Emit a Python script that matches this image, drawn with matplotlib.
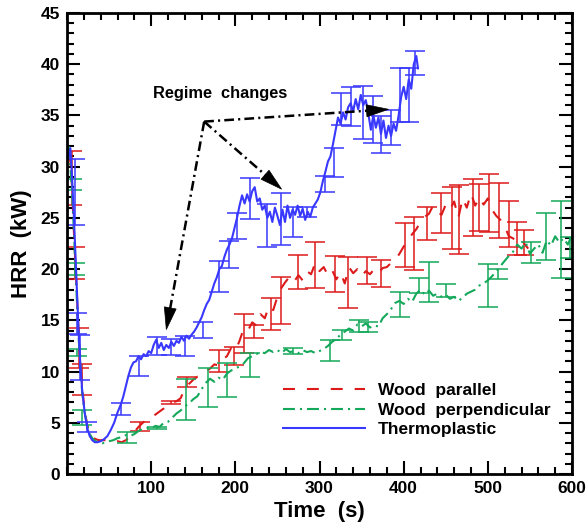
import matplotlib
matplotlib.use("Agg")
import numpy as np
import matplotlib.pyplot as plt
from matplotlib.ticker import MultipleLocator, FixedLocator

plt.rcParams['font.family'] = ['Liberation Sans', 'DejaVu Sans']
plt.rcParams['font.weight'] = 'bold'
plt.rcParams['lines.scale_dashes'] = False

# ---------------- data ----------------
series_labels = ["Wood  parallel", "Wood  perpendicular", "Thermoplastic"]

# Thermoplastic (blue)
t_thermo = [2, 4, 6, 8, 10, 12, 14, 16, 18, 21, 24, 27, 30, 33, 36, 40, 44, 48, 52, 56,
            60, 64, 67, 70, 73, 76, 79, 82, 85, 88, 91, 94, 97, 100, 103, 106, 109, 112, 115, 118,
            121, 124, 127, 130, 133, 136, 139, 142, 145, 148, 151, 154, 157, 160, 163, 166, 169, 172, 175, 178,
            181, 184, 187, 190, 193, 196, 199, 202, 205, 208, 211, 214, 217, 220, 223, 226, 229, 232, 235, 238,
            241, 244, 247, 250, 253, 256, 259, 262, 265, 268, 271, 274, 277, 280, 283, 286, 289, 292, 295, 298,
            301, 304, 307, 310, 313, 316, 319, 322, 325, 328, 331, 334, 337, 340, 343, 346, 349, 352, 355, 358,
            361, 364, 367, 370, 373, 376, 379, 382, 385, 388, 391, 394, 397, 400, 403, 406, 409, 412, 415, 417]
hrr_thermo = [31.0, 31.8, 29.0, 25.5, 21.5, 17.5, 13.5, 10.5, 8.2, 6.0, 4.5, 3.7, 3.3, 3.1, 3.1, 3.2, 3.4, 3.7, 4.3, 5.0,
              6.0, 6.8, 7.6, 8.6, 9.6, 10.4, 10.9, 11.0, 11.5, 11.2, 11.7, 11.5, 12.0, 11.8, 12.6, 13.1, 12.3, 12.8, 12.1, 12.6,
              12.3, 12.9, 12.5, 13.0, 12.8, 13.4, 13.0, 13.5, 13.2, 13.6, 13.9, 14.3, 14.8, 15.3, 16.0, 16.6, 17.0, 17.8, 18.6, 19.2,
              20.0, 20.3, 21.2, 21.9, 22.4, 23.0, 24.0, 25.0, 26.2, 27.2, 26.4, 27.3, 26.6, 27.6, 28.0, 26.6, 26.9, 25.8, 26.2, 25.0,
              25.6, 24.6, 26.0, 25.2, 24.3, 25.8, 24.6, 26.2, 25.0, 25.8, 25.3, 26.2, 25.2, 25.9, 24.8, 25.6, 25.1, 26.0, 26.4, 26.8,
              27.5, 28.6, 29.5, 30.5, 31.0, 32.2, 33.5, 34.8, 34.2, 35.3, 34.6, 35.8, 36.2, 35.4, 36.6, 35.6, 37.0, 36.0, 36.5, 35.2,
              33.6, 35.0, 33.8, 34.8, 33.2, 34.5, 32.8, 34.0, 33.0, 34.2, 33.5, 35.0, 36.8, 37.8, 36.6, 38.5, 37.6, 40.0, 40.8, 39.6]

# Wood parallel (red)
t_par = [2, 4, 6, 8, 10, 12, 14, 16, 18, 21, 24, 27, 30, 34, 38, 42, 46, 50, 55, 60,
         65, 70, 75, 80, 85, 90, 95, 100, 105, 110, 115, 120, 125, 130, 135, 140, 145, 150, 155, 160,
         165, 170, 175, 180, 185, 190, 195, 200, 205, 210, 215, 220, 225, 230, 235, 240, 245, 250, 255, 260,
         265, 270, 275, 280, 285, 290, 295, 300, 305, 310, 315, 320, 325, 330, 335, 340, 345, 350, 355, 360,
         365, 370, 375, 380, 385, 390, 395, 400, 405, 410, 415, 420, 425, 430, 435, 440, 445, 450, 455, 460,
         465, 470, 475, 480, 485, 490, 495, 500, 505, 510, 515, 520, 525, 530, 535, 540, 545, 548]
hrr_par = [31.2, 30.5, 28.0, 24.0, 20.5, 17.0, 13.5, 11.0, 8.5, 6.2, 4.8, 4.0, 3.6, 3.4, 3.3, 3.3, 3.3, 3.2, 3.1, 3.2,
           3.1, 3.3, 3.7, 4.1, 4.6, 5.0, 5.3, 5.5, 5.8, 6.1, 6.4, 6.8, 7.0, 7.1, 7.4, 8.3, 8.8, 9.2, 9.5, 9.6,
           10.0, 10.3, 10.7, 10.6, 11.2, 11.5, 12.3, 12.0, 13.0, 14.2, 14.0, 14.8, 14.5, 15.6, 15.2, 16.4, 16.0, 17.3, 18.2, 18.8,
           19.3, 18.8, 19.4, 18.9, 19.8, 19.5, 20.6, 19.8, 20.2, 19.4, 19.9, 19.0, 19.7, 18.6, 20.2, 19.6, 20.0, 19.3, 19.8, 19.5,
           20.0, 19.6, 20.1, 20.2, 20.6, 20.9, 21.5, 22.2, 22.8, 23.4, 23.9, 24.6, 25.1, 25.4, 26.2, 25.6, 25.3, 26.3, 25.8, 26.6,
           25.0, 26.9, 26.0, 27.4, 26.2, 27.0, 26.3, 26.9, 25.8, 25.2, 24.8, 24.2, 23.2, 23.0, 22.6, 22.9, 22.3, 22.0]

# Wood perpendicular (green)
t_perp = [2, 4, 6, 8, 10, 12, 14, 16, 18, 21, 24, 27, 30, 34, 38, 42, 46, 50, 55, 60,
          65, 70, 75, 80, 85, 90, 95, 100, 105, 110, 115, 120, 125, 130, 135, 140, 145, 150, 155, 160,
          165, 170, 175, 180, 185, 190, 195, 200, 205, 210, 215, 220, 225, 230, 235, 240, 245, 250, 255, 260,
          265, 270, 275, 280, 285, 290, 295, 300, 305, 310, 315, 320, 325, 330, 335, 340, 345, 350, 355, 360,
          365, 370, 375, 380, 385, 390, 395, 400, 405, 410, 415, 420, 425, 430, 435, 440, 445, 450, 455, 460,
          465, 470, 475, 480, 485, 490, 495, 500, 505, 510, 515, 520, 525, 530, 535, 540, 545, 550, 555, 560,
          565, 570, 575, 580, 585, 590, 595, 600]
hrr_perp = [32.0, 30.0, 27.5, 24.0, 20.0, 16.5, 13.0, 10.3, 8.0, 6.0, 4.7, 3.9, 3.5, 3.2, 3.1, 3.0, 3.1, 3.2, 3.3, 3.5,
            3.6, 3.8, 3.7, 3.9, 4.2, 4.4, 4.5, 4.4, 4.7, 4.6, 5.0, 5.1, 5.5, 5.9, 6.2, 6.6, 6.9, 7.3, 7.6, 8.3,
            8.9, 9.3, 9.0, 9.4, 9.2, 9.8, 10.1, 10.3, 10.5, 10.8, 11.3, 11.5, 11.7, 11.9, 11.8, 12.1, 11.9, 12.1, 11.8, 12.2,
            11.9, 12.0, 11.8, 12.1, 11.9, 12.0, 11.8, 12.0, 12.2, 12.5, 12.9, 13.2, 13.6, 13.9, 14.2, 14.0, 14.6, 14.4, 14.7, 14.3,
            14.5, 14.4, 15.2, 15.6, 16.1, 16.7, 16.9, 16.6, 17.1, 16.8, 17.6, 18.0, 17.5, 17.9, 17.4, 17.6, 17.3, 17.5, 17.1, 17.3,
            16.9, 17.2, 17.6, 17.8, 18.0, 18.4, 18.6, 18.9, 19.3, 19.8, 20.3, 20.8, 21.3, 21.7, 22.4, 22.0, 22.6, 21.5, 22.0, 22.4,
            21.6, 22.8, 22.3, 23.2, 22.6, 23.0, 22.4, 23.3]

# Error bars (time, mean, half-range)
eb_t_thermo = [9, 12, 15, 24, 64, 85, 107, 124, 140, 162, 180, 192, 202, 218, 238, 254, 268, 285, 307, 317,
               325, 337, 352, 363, 373, 385, 396, 406, 414]
eb_y_thermo = [27.5, 14.7, 11.4, 4.6, 6.35, 10.55, 12.5, 12.4, 12.5, 14.05, 19.3, 21.4, 24.2, 26.9, 24.3, 24.9, 24.6, 25.6, 28.3, 30.4,
               35.6, 35.9, 35.3, 34.6, 33.1, 33.8, 37.0, 37.0, 40.1]
eb_e_thermo = [3.2, 1.0, 2.2, 0.5, 0.55, 0.95, 0.9, 0.8, 1.0, 0.75, 1.5, 1.3, 1.3, 2.0, 2.1, 2.5, 1.5, 0.5, 0.75, 1.4,
               1.55, 1.9, 2.6, 2.3, 1.8, 1.7, 2.6, 2.6, 1.15]

eb_t_par = [6, 10, 14, 18, 87, 123, 143, 180, 198, 210, 222, 242, 254, 274, 295, 319, 334, 357, 373, 402,
            412, 428, 444, 458, 466, 482, 490, 501, 513, 525, 535, 543]
eb_y_par = [28.9, 20.6, 12.3, 9.2, 4.6, 7.0, 9.0, 11.05, 11.5, 13.7, 13.9, 15.6, 16.9, 19.75, 20.4, 19.55, 18.7, 19.85, 19.6, 22.35,
            22.5, 24.45, 25.5, 25.0, 24.85, 26.0, 26.0, 26.45, 25.7, 24.4, 23.0, 22.6]
eb_e_par = [2.6, 1.6, 2.0, 1.5, 0.45, 0.15, 0.5, 1.05, 0.9, 1.9, 0.6, 1.55, 2.3, 1.65, 2.2, 1.75, 2.5, 1.35, 1.3, 2.15,
            2.6, 1.65, 1.95, 3.0, 3.35, 2.75, 2.3, 2.85, 2.7, 2.2, 1.6, 1.2]

eb_t_perp = [6, 9, 12, 18, 71, 107, 141, 168, 190, 217, 269, 312, 327, 347, 358, 396, 418, 430, 450, 500,
             512, 551, 569, 587, 598]
eb_y_perp = [28.25, 20.0, 11.85, 5.5, 3.55, 4.5, 7.3, 8.4, 9.2, 10.65, 12.0, 12.05, 13.6, 14.45, 14.35, 16.55, 18.4, 18.75, 17.9, 18.4,
             19.5, 21.6, 23.2, 22.85, 22.1]
eb_e_perp = [0.55, 0.6, 0.35, 0.7, 0.55, 0.1, 2.0, 1.9, 1.65, 1.15, 0.3, 1.0, 0.5, 0.55, 0.45, 1.25, 0.7, 1.95, 0.6, 2.1,
             0.5, 1.0, 2.3, 3.75, 1.0]

annot_text = "Regime  changes"
annot_origin = (163, 34.4)
annot_tips = [(118, 14.1), (255, 27.8), (382, 35.6)]

x_ticks = [100, 200, 300, 400, 500, 600]
y_ticks = [0, 5, 10, 15, 20, 25, 30, 35, 40, 45]

# ---------------- styling ----------------
c_red = '#dd1a1a'
c_green = '#14a85a'
c_blue = '#3838ff'
dash_red = (0, (8.6, 8.6))
dash_green = (0, (8.6, 3.6, 1.5, 3.6))

fig = plt.figure(figsize=(5.87, 5.26), dpi=100)
ax = fig.add_axes([67/587, 1 - 474/526, 505/587, 461/526])

ebkw = dict(fmt='none', elinewidth=1.1, capsize=7.5, capthick=1.1)
ax.errorbar(eb_t_par, eb_y_par, yerr=eb_e_par, ecolor=c_red, **ebkw)
ax.plot(t_par, hrr_par, color=c_red, lw=1.5, linestyle=dash_red, label=series_labels[0])
ax.errorbar(eb_t_perp, eb_y_perp, yerr=eb_e_perp, ecolor=c_green, **ebkw)
ax.plot(t_perp, hrr_perp, color=c_green, lw=1.5, linestyle=dash_green, label=series_labels[1])
ax.errorbar(eb_t_thermo, eb_y_thermo, yerr=eb_e_thermo, ecolor=c_blue, **ebkw)
ax.plot(t_thermo, hrr_thermo, color=c_blue, lw=1.5, linestyle='-', label=series_labels[2])

ax.set_xlim(0, 600)
ax.set_ylim(0, 45)
ax.xaxis.set_major_locator(FixedLocator(x_ticks))
ax.xaxis.set_minor_locator(MultipleLocator(20))
ax.yaxis.set_major_locator(FixedLocator(y_ticks))
ax.yaxis.set_minor_locator(MultipleLocator(1))
ax.tick_params(which='both', direction='in', top=True, right=True, width=1.5, labelsize=12.5)
ax.tick_params(which='major', length=9.5, pad=5)
ax.tick_params(which='minor', length=5)
for lab in ax.get_xticklabels() + ax.get_yticklabels():
    lab.set_fontweight('bold')
for sp in ax.spines.values():
    sp.set_linewidth(2)

ax.set_xlabel("Time  (s)", fontsize=16, fontweight='bold', labelpad=4)
ax.set_ylabel("HRR  (kW)", fontsize=16, fontweight='bold', labelpad=6)

ax.text(182, 37.1, annot_text, fontsize=11.8, fontweight='bold', ha='center', va='center')

# arrows: dash-dot shafts with solid filled triangular heads (built in pixel space)
head_len_px, head_halfw_px = 22.0, 6.0
p_org = ax.transData.transform(annot_origin)
for tip in annot_tips:
    p_tip = ax.transData.transform(tip)
    d = p_org - p_tip
    d = d / np.hypot(d[0], d[1])
    nrm = np.array([-d[1], d[0]])
    base = p_tip + d * head_len_px
    tri_px = np.array([p_tip, base + nrm * head_halfw_px, base - nrm * head_halfw_px])
    tri = ax.transData.inverted().transform(tri_px)
    base_data = ax.transData.inverted().transform(p_tip + d * (head_len_px - 2))
    ax.plot([annot_origin[0], base_data[0]], [annot_origin[1], base_data[1]], color='black',
            lw=1.8, linestyle=(0, (7, 3, 1.5, 3)), zorder=5)
    ax.fill(tri[:, 0], tri[:, 1], color='black', zorder=6, lw=0.5)

leg = ax.legend(loc='center left', bbox_to_anchor=((283-67)/505, (474-410)/461),
                frameon=False, fontsize=12.5, handlelength=4.7, handletextpad=0.75,
                labelspacing=0.25, borderpad=0, borderaxespad=0)
for t in leg.get_texts():
    t.set_fontweight('bold')

fig.savefig("out.png", dpi=100)
